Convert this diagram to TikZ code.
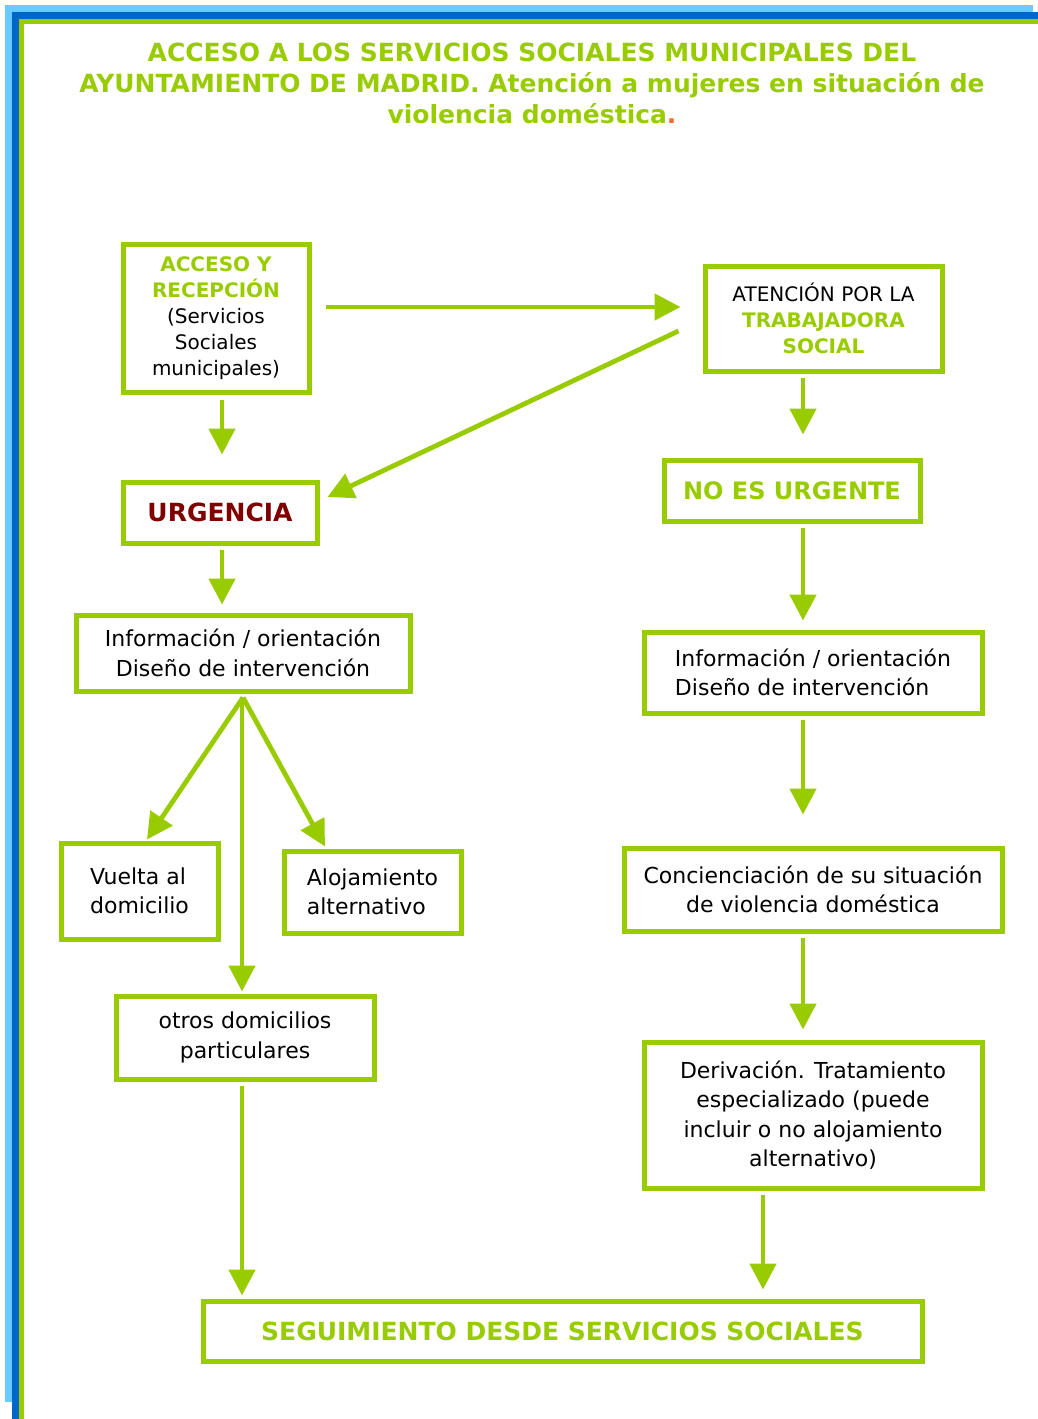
\documentclass[tikz,border=0pt]{standalone}
\usepackage{fontspec}
\setmainfont{DejaVu Sans}
\usetikzlibrary{arrows.meta}
\definecolor{grn}{HTML}{99CC00}
\definecolor{lblue}{HTML}{66CCFF}
\definecolor{dblue}{HTML}{0066CC}
\definecolor{dred}{HTML}{800000}
\definecolor{orng}{HTML}{FF6633}
\newcommand{\grb}[1]{{\bfseries\color{grn}#1}}
\begin{document}
\begin{tikzpicture}[x=1pt,y=-1pt,
  box/.style={draw=grn, line width=5pt, inner sep=0pt, align=center,
    font=\fontsize{22}{29.5}\selectfont, text=black},
  smallbox/.style={box, font=\fontsize{20}{26}\selectfont},
  arr/.style={draw=grn, line width=4.8pt, -{Triangle[length=26pt,width=26pt]}}]
\useasboundingbox (0,0) rectangle (1038,1419);
\fill[white] (0,0) rectangle (1038,1419);
% frame
\fill[lblue] (5,5) rectangle (12,1402);
\fill[lblue] (5,5) rectangle (1033,12);
\fill[dblue] (12,12) rectangle (19,1419);
\fill[dblue] (12,12) rectangle (1038,19);
\fill[grn] (19,19) rectangle (24,1419);
\fill[grn] (19,19) rectangle (1038,24);
% title
\node[align=center, text=grn, font=\fontsize{25}{31}\selectfont\bfseries] (title) at (532,83)
  {ACCESO A LOS SERVICIOS SOCIALES MUNICIPALES DEL\\
   AYUNTAMIENTO DE MADRID. Atención a mujeres en situación de\\
   violencia doméstica{\color{orng}.}};
% boxes
\node[smallbox, minimum width=186pt, minimum height=148pt] (acc) at (216,318)
  {\grb{ACCESO Y}\\\grb{RECEPCIÓN}\\(Servicios\\Sociales\\municipales)};
\node[smallbox, minimum width=237pt, minimum height=105pt] (aten) at (823.5,318.5)
  {ATENCIÓN POR LA\\\grb{TRABAJADORA}\\\grb{SOCIAL}};
\node[box, minimum width=194pt, minimum height=61pt, font=\fontsize{25}{30}\selectfont\bfseries, text=dred] (urg) at (220,512.5) {URGENCIA};
\node[box, minimum width=256pt, minimum height=61pt, font=\fontsize{24}{30}\selectfont\bfseries, text=grn] (noes) at (792,490.5) {NO ES URGENTE};
\node[box, minimum width=334pt, minimum height=76pt] (infl) at (243,653)
  {Información / orientación\\Diseño de intervención};
\node[box, align=left, minimum width=338pt, minimum height=81pt] (infr) at (813,672.5)
  {Información / orientación\\Diseño de intervención};
\node[box, align=left, minimum width=157pt, minimum height=96pt] (vuel) at (139.5,891)
  {Vuelta al\\domicilio};
\node[box, align=left, minimum width=177pt, minimum height=82pt] (aloj) at (372.5,892)
  {Alojamiento\\alternativo};
\node[box, minimum width=258pt, minimum height=83pt] (otros) at (245,1037.5)
  {otros domicilios\\particulares};
\node[box, minimum width=378pt, minimum height=83pt] (conc) at (813,889.5)
  {Concienciación de su situación\\de violencia doméstica};
\node[box, minimum width=338pt, minimum height=146pt] (deriv) at (813,1115)
  {Derivación. Tratamiento\\especializado (puede\\incluir o no alojamiento\\alternativo)};
\node[box, minimum width=719pt, minimum height=60pt, font=\fontsize{25}{30}\selectfont\bfseries, text=grn] (seg) at (562.5,1331)
  {SEGUIMIENTO DESDE SERVICIOS SOCIALES};
% connectors
\draw[arr] ([shift={(14pt,11pt)}]acc.east) -- ([shift={(-22pt,11.5pt)}]aten.west);
\draw[arr] ([shift={(-24pt,-12.5pt)}]aten.west) -- ([shift={(8pt,15.5pt)}]urg.east);
\draw[arr] ([shift={(6pt,-5pt)}]acc.south) -- ([shift={(2pt,25pt)}]urg.north);
\draw[arr] ([shift={(2pt,-4pt)}]urg.south) -- ([shift={(-21pt,8pt)}]infl.north);
\draw[arr] ([shift={(-20.5pt,-4pt)}]aten.south) -- ([shift={(11pt,23pt)}]noes.north);
\draw[arr] ([shift={(11pt,-4pt)}]noes.south) -- ([shift={(-10pt,9pt)}]infr.north);
\draw[arr] ([shift={(-10pt,-4pt)}]infr.south) -- ([shift={(-10pt,31pt)}]conc.north);
\draw[arr] ([shift={(-10pt,-4pt)}]conc.south) -- ([shift={(-10pt,10pt)}]deriv.north);
\draw[arr] ([shift={(-50pt,-4pt)}]deriv.south) -- ([shift={(200.5pt,9pt)}]seg.north);
\draw[arr] ([shift={(-3pt,-4pt)}]otros.south) -- ([shift={(-320.5pt,3pt)}]seg.north);
\draw[arr] ([shift={(0pt,-4pt)}]infl.south) -- ([shift={(7.5pt,1pt)}]vuel.north);
\draw[arr] ([shift={(0pt,-4pt)}]infl.south) -- ([shift={(-47.5pt,2pt)}]aloj.north);
\draw[arr] ([shift={(-1pt,-4pt)}]infl.south) -- ([shift={(-3pt,2pt)}]otros.north);
\end{tikzpicture}
\end{document}
